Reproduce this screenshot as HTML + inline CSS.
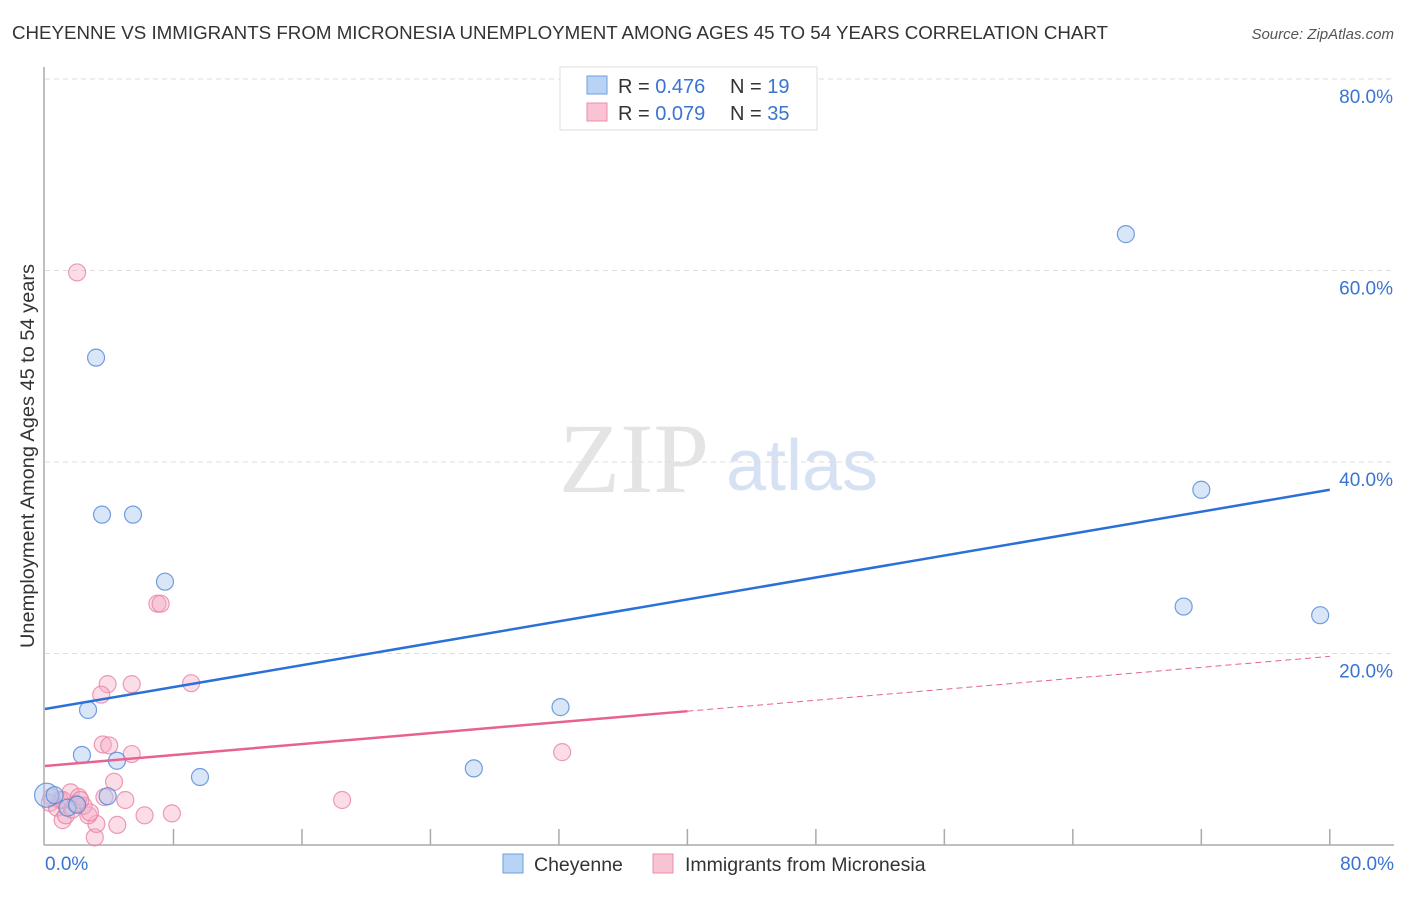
<!DOCTYPE html>
<html><head><meta charset="utf-8"><style>
body{margin:0;background:#fff;font-family:"Liberation Sans",sans-serif;}
</style></head><body>
<svg id="c" width="1406" height="892" xmlns="http://www.w3.org/2000/svg" style="font-family:'Liberation Sans',sans-serif">
<text x="12" y="39" font-size="18" fill="#333" textLength="1096" lengthAdjust="spacingAndGlyphs">CHEYENNE VS IMMIGRANTS FROM MICRONESIA UNEMPLOYMENT AMONG AGES 45 TO 54 YEARS CORRELATION CHART</text>
<text x="1394" y="39" font-size="15" font-style="italic" fill="#555" text-anchor="end">Source: ZipAtlas.com</text>
<text x="634" y="492" font-size="100" fill="#e4e4e4" font-family="Liberation Serif" text-anchor="middle">ZIP</text>
<text x="802" y="490" font-size="72" fill="#d6e2f4" text-anchor="middle">atlas</text>
<text transform="translate(34,456) rotate(-90)" font-size="19" fill="#333" text-anchor="middle" textLength="384" lengthAdjust="spacingAndGlyphs">Unemployment Among Ages 45 to 54 years</text>
<g id="grid"></g><g id="marks"></g>
<g>
<rect x="560" y="67" width="257" height="63" fill="#fff" stroke="#ddd"/>
<rect x="587" y="76" width="20" height="18" fill="#b9d3f5" stroke="#6e9de0"/>
<rect x="587" y="103" width="20" height="18" fill="#f9c3d3" stroke="#eb8fac"/>
<text x="618" y="93" font-size="20" fill="#333">R = <tspan fill="#3a74d0">0.476</tspan><tspan x="730">N = </tspan><tspan fill="#3a74d0">19</tspan></text>
<text x="618" y="120" font-size="20" fill="#333">R = <tspan fill="#3a74d0">0.079</tspan><tspan x="730">N = </tspan><tspan fill="#3a74d0">35</tspan></text>
</g>
<g>
<rect x="503" y="854" width="20" height="19" fill="#b9d3f5" stroke="#6e9de0"/>
<text x="534" y="871" font-size="19.5" fill="#333">Cheyenne</text>
<rect x="653" y="854" width="20" height="19" fill="#f9c3d3" stroke="#eb8fac"/>
<text x="685" y="871" font-size="19.5" fill="#333">Immigrants from Micronesia</text>
</g>
</svg>
<script>
const yTicks=[20,40,60,80];
const xTickLabels=["0.0%","80.0%"];
const blueX=[3.18,3.55,5.48,7.47,2.68,2.3,4.48,9.65,26.7,32.1,67.3,72.0,70.9,79.4,0.1,0.6,1.4,2.0,3.9];
const blueY=[50.9,34.5,34.5,27.5,14.1,9.4,8.8,7.1,8.0,14.4,63.8,37.1,24.9,24.0,5.2,5.2,3.9,4.2,5.1];
const pinkX=[2.0,7.0,7.2,3.9,5.4,9.1,3.5,3.6,4.0,5.4,32.2,4.3,5.0,18.5,7.9,6.2,4.5,3.1,3.2,2.7,2.4,1.6,2.1,0.9,0.3,0.75,1.1,1.3,1.7,1.9,3.7,2.8,0.4,1.1,2.2];
const pinkY=[59.8,25.2,25.2,16.8,16.8,16.9,15.7,10.5,10.4,9.5,9.7,6.6,4.7,4.7,3.3,3.1,2.1,0.8,2.2,3.1,4.1,5.5,5.0,4.7,4.4,3.9,2.6,3.1,3.7,4.3,5.0,3.4,5.0,4.7,4.7];
const blueTrend=[14.2,37.1];
const pinkTrend=[8.25,19.7];
const pinkSolidEnd=40;
const X=v=>45+v*16.06, Y=v=>845-v*9.575;
const NS="http://www.w3.org/2000/svg";
const g=document.getElementById('grid'), m=document.getElementById('marks');
function el(t,a,p){const e=document.createElementNS(NS,t);for(const k in a)e.setAttribute(k,a[k]);p.appendChild(e);return e;}
yTicks.forEach(t=>{
 const l=el('line',{x1:45,x2:1394,y1:Y(t),y2:Y(t),stroke:'#ddd','stroke-dasharray':'5,4'},g);
 
 
 const tx=el('text',{x:1393,y:Y(t)+24,'font-size':19,fill:'#3a74d0','text-anchor':'end'},g);
 tx.textContent=t.toFixed(1)+'%';
 
 
});
const ax=el('line',{x1:44,x2:44,y1:67,y2:845,stroke:'#aaa','stroke-width':1.5},g);


const bx=el('line',{x1:44,x2:1394,y1:845,y2:845,stroke:'#aaa','stroke-width':1.5},g);


for(let i=1;i<=10;i++){const t=el('line',{x1:X(i*8),x2:X(i*8),y1:829,y2:845,stroke:'#aaa','stroke-width':1.5},g);
 
 }
[[0,'start',45],[80,'end',1394]].forEach((d,i)=>{const t=el('text',{x:d[2],y:870,'font-size':19,fill:'#3a74d0','text-anchor':d[1]},g);t.textContent=xTickLabels[i];
 
 });
function dots(xs,ys,fill,stroke,name){xs.forEach((x,i)=>{const c=el('circle',{cx:X(x),cy:Y(ys[i]),r:(x<0.3&&name=='cheyenne-point')?12:8.5,fill:fill,stroke:stroke,'stroke-width':1.2},m);
 
 });}
dots(pinkX,pinkY,'rgba(246,170,195,0.4)','rgba(232,130,165,0.8)','micronesia-point');
dots(blueX,blueY,'rgba(170,200,240,0.45)','rgba(80,135,215,0.8)','cheyenne-point');
const pv=x=>pinkTrend[0]+(pinkTrend[1]-pinkTrend[0])*x/80;
const p1=el('line',{x1:X(0),y1:Y(pinkTrend[0]),x2:X(pinkSolidEnd),y2:Y(pv(pinkSolidEnd)),stroke:'#e8628f','stroke-width':2.5},m);


const p2=el('line',{x1:X(pinkSolidEnd),y1:Y(pv(pinkSolidEnd)),x2:X(80),y2:Y(pinkTrend[1]),stroke:'#e8628f','stroke-width':1,'stroke-dasharray':'6,4'},m);


const b=el('line',{x1:X(0),y1:Y(blueTrend[0]),x2:X(80),y2:Y(blueTrend[1]),stroke:'#2b70d8','stroke-width':2.5},m);


</script>
</body></html>
